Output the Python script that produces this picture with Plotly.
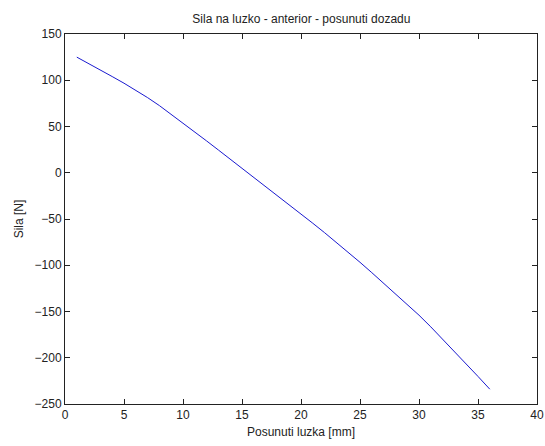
import plotly.graph_objects as go

posunuti = list(range(1, 37))
sila = [125, 118.2, 111.2, 104, 96.8, 89.2, 81.2, 72.6, 63.2, 53.6,
        44, 34.4, 24.6, 14.8, 5, -4.8, -14.6, -24.5, -34.5, -44.5,
        -54.6, -64.8, -75.2, -85.8, -96.8, -108, -119.4, -130.8, -142.2, -154,
        -166.6, -179.8, -193.2, -206.6, -220.2, -234]
x_ticks = [0, 5, 10, 15, 20, 25, 30, 35, 40]
y_ticks = [-250, -200, -150, -100, -50, 0, 50, 100, 150]

font = dict(family="Liberation Sans, Arial, sans-serif", size=12, color="#222222")

fig = go.Figure(go.Scatter(x=posunuti, y=sila, mode="lines",
                           line=dict(color="#1a1ad0", width=1), showlegend=False))

axis_common = dict(showgrid=False, zeroline=False, showline=True, linecolor="#222222",
                   linewidth=1, mirror="ticks", ticks="inside", ticklen=5,
                   tickcolor="#222222", tickfont=font, automargin=False)

fig.update_layout(
    width=545, height=446,
    margin=dict(l=65, r=8, t=34, b=42),
    paper_bgcolor="white", plot_bgcolor="white",
    font=font,
    title=dict(text="Sila na luzko - anterior - posunuti dozadu", x=0.553, xanchor="center",
               y=0.957, yanchor="middle", font=dict(size=12, color="#222222")),
    xaxis=dict(range=[0, 40], tickvals=x_ticks, **axis_common,
               title=dict(text="Posunuti luzka [mm]", standoff=6, font=font)),
    yaxis=dict(range=[-250, 150], tickvals=y_ticks, **axis_common,
               title=dict(text="Sila [N]", standoff=8, font=font)),
)

fig.write_html("out.html")
